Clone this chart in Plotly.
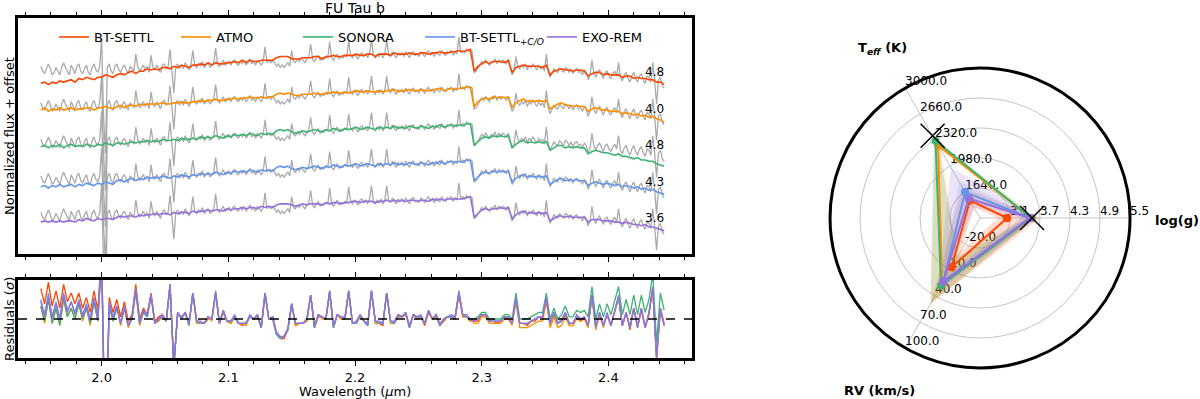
import numpy as np
import plotly.graph_objects as go

# ---- observed K-band spectrum, normalized flux, 1.5 nm sampling ----
wave_obs = np.round(np.arange(1.952, 2.44425, 0.0015), 4)
obs_flux = [
    1.03, 0.99, 0.97, 1.02, 1.05, 1.01, 0.96, 0.98, 1.02, 0.99,
    0.96, 1.02, 1.06, 1.02, 0.99, 0.96, 1.04, 1.01, 0.97, 1.03,
    1.05, 0.99, 0.97, 1.01, 1.04, 0.98, 0.96, 1.02, 1.05, 1.00,
    0.98, 1.03, 1.26, 0.62, 0.31, 1.02, 1.05, 0.99, 0.97, 1.03,
    1.05, 1.00, 0.98, 1.02, 1.04, 1.00, 0.97, 1.03, 1.01, 0.99,
    1.13, 1.03, 0.99, 1.01, 1.04, 1.00, 1.03, 0.98, 1.12, 1.02,
    1.00, 1.04, 1.01, 0.98, 1.04, 1.05, 1.01, 1.03, 1.17, 0.99,
    0.81, 1.03, 1.05, 1.01, 1.04, 1.01, 1.06, 1.03, 1.00, 1.04,
    1.16, 1.04, 1.02, 1.05, 1.03, 1.07, 1.02, 1.04, 1.06, 1.02,
    1.04, 1.06, 1.18, 1.05, 1.03, 1.06, 1.08, 1.04, 1.05, 1.07,
    1.04, 1.07, 1.08, 1.05, 1.04, 1.07, 1.05, 1.08, 1.04, 1.06,
    1.09, 1.05, 1.07, 1.04, 1.08, 1.06, 1.04, 1.07, 1.19, 1.06,
    1.08, 1.06, 1.08, 1.06, 1.03, 1.05, 1.02, 1.04, 1.02, 1.04,
    1.06, 1.03, 1.16, 1.07, 1.06, 1.09, 1.07, 1.10, 1.08, 1.06,
    1.09, 1.11, 1.21, 1.09, 1.07, 1.10, 1.12, 1.08, 1.10, 1.09,
    1.11, 1.10, 1.23, 1.10, 1.08, 1.11, 1.13, 1.09, 1.11, 1.10,
    1.12, 1.11, 1.24, 1.12, 1.10, 1.13, 1.11, 1.09, 1.13, 1.14,
    1.11, 1.13, 1.10, 1.14, 1.25, 1.12, 1.10, 1.13, 1.11, 1.14,
    1.10, 1.13, 1.25, 1.13, 1.11, 1.15, 1.12, 1.10, 1.14, 1.12,
    1.14, 1.11, 1.15, 1.12, 1.10, 1.14, 1.15, 1.12, 1.13, 1.11,
    1.15, 1.13, 1.11, 1.14, 1.16, 1.12, 1.14, 1.11, 1.15, 1.13,
    1.12, 1.16, 1.13, 1.12, 1.15, 1.14, 1.16, 1.12, 1.15, 1.13,
    1.27, 1.14, 1.16, 1.14, 1.17, 1.15, 1.16, 1.15, 0.98, 0.99,
    1.02, 1.05, 1.07, 1.05, 1.08, 1.06, 1.04, 1.07, 1.06, 1.09,
    1.05, 1.08, 1.06, 1.08, 1.07, 1.05, 1.08, 1.02, 0.96, 0.99,
    1.11, 1.03, 1.01, 1.04, 1.02, 1.05, 1.00, 1.04, 1.02, 1.05,
    1.02, 1.00, 1.04, 1.01, 1.03, 0.99, 1.13, 0.99, 0.94, 0.97,
    1.01, 0.99, 0.98, 1.02, 1.00, 0.98, 1.02, 1.01, 0.98, 1.01,
    0.97, 1.00, 1.01, 0.98, 0.99, 0.96, 1.00, 0.98, 0.92, 0.96,
    1.08, 0.98, 0.94, 0.98, 1.00, 0.96, 0.93, 0.98, 0.99, 0.95,
    0.93, 0.97, 0.99, 0.95, 1.06, 0.94, 0.91, 0.96, 0.98, 0.93,
    0.90, 0.95, 0.98, 0.93, 0.90, 0.95, 0.97, 0.92, 0.89, 0.95,
    0.94, 0.90, 1.06, 0.91, 0.72, 0.92, 0.94, 0.87, 0.85,
]
flux_err = 0.03

# ---- model spectra, 3 nm sampling (every second observed pixel) ----
wave = np.round(np.arange(1.952, 2.4445, 0.003), 3)

bt_settl = [
    0.89, 0.90, 0.88, 0.90, 0.89, 0.91, 0.90, 0.91, 0.92, 0.90,
    0.93, 0.92, 0.94, 0.93, 0.92, 0.94, 0.94, 0.96, 0.95, 0.94,
    0.96, 0.97, 0.96, 0.98, 0.99, 0.97, 0.99, 0.99, 1.01, 1.00,
    1.01, 1.00, 1.02, 1.02, 1.01, 1.03, 1.02, 1.04, 1.03, 1.02,
    1.04, 1.04, 1.05, 1.04, 1.06, 1.04, 1.06, 1.05, 1.05, 1.06,
    1.06, 1.07, 1.06, 1.08, 1.06, 1.08, 1.07, 1.07, 1.08, 1.08,
    1.08, 1.08, 1.10, 1.11, 1.11, 1.11, 1.09, 1.09, 1.09, 1.10,
    1.10, 1.10, 1.11, 1.11, 1.09, 1.11, 1.11, 1.12, 1.11, 1.11,
    1.12, 1.12, 1.12, 1.13, 1.12, 1.12, 1.13, 1.13, 1.11, 1.13,
    1.13, 1.13, 1.12, 1.14, 1.13, 1.13, 1.13, 1.14, 1.13, 1.13,
    1.14, 1.14, 1.13, 1.14, 1.14, 1.15, 1.14, 1.14, 1.15, 1.15,
    1.16, 1.15, 1.16, 1.17, 0.99, 1.03, 1.05, 1.07, 1.05, 1.07,
    1.07, 1.07, 1.06, 1.08, 0.98, 1.02, 1.03, 1.04, 1.03, 1.03,
    1.03, 1.03, 1.02, 1.04, 0.96, 0.99, 1.00, 1.01, 1.00, 1.00,
    0.99, 1.00, 1.00, 0.99, 0.95, 0.97, 0.98, 0.98, 0.96, 0.97,
    0.96, 0.96, 0.96, 0.94, 0.95, 0.95, 0.93, 0.94, 0.93, 0.93,
    0.92, 0.92, 0.90, 0.90, 0.88,
]
atmo = [
    0.97, 0.99, 0.96, 0.98, 0.97, 0.99, 0.97, 0.98, 0.99, 0.97,
    0.98, 0.98, 0.99, 0.99, 0.97, 0.99, 0.99, 1.00, 0.99, 0.98,
    1.00, 1.01, 0.99, 1.01, 1.01, 1.00, 1.02, 1.01, 1.02, 1.02,
    1.02, 1.02, 1.03, 1.02, 1.02, 1.03, 1.03, 1.04, 1.03, 1.03,
    1.04, 1.04, 1.05, 1.04, 1.05, 1.05, 1.06, 1.05, 1.05, 1.06,
    1.06, 1.07, 1.06, 1.07, 1.07, 1.08, 1.07, 1.07, 1.08, 1.07,
    1.08, 1.08, 1.10, 1.11, 1.10, 1.11, 1.10, 1.09, 1.09, 1.10,
    1.10, 1.10, 1.11, 1.10, 1.10, 1.11, 1.11, 1.12, 1.11, 1.11,
    1.12, 1.11, 1.12, 1.13, 1.12, 1.12, 1.13, 1.12, 1.12, 1.13,
    1.12, 1.13, 1.13, 1.14, 1.12, 1.13, 1.13, 1.14, 1.13, 1.13,
    1.14, 1.13, 1.13, 1.14, 1.14, 1.15, 1.13, 1.14, 1.15, 1.14,
    1.15, 1.15, 1.16, 1.16, 1.00, 1.04, 1.06, 1.07, 1.06, 1.08,
    1.07, 1.08, 1.07, 1.08, 0.99, 1.03, 1.05, 1.06, 1.04, 1.05,
    1.04, 1.05, 1.04, 1.05, 0.98, 1.00, 1.02, 1.03, 1.01, 1.01,
    1.00, 1.01, 1.00, 1.00, 0.96, 0.98, 0.99, 0.98, 0.97, 0.97,
    0.96, 0.96, 0.96, 0.94, 0.95, 0.94, 0.93, 0.94, 0.92, 0.93,
    0.91, 0.92, 0.90, 0.89, 0.87,
]
sonora = [
    0.97, 0.98, 0.96, 0.98, 0.97, 0.99, 0.96, 0.98, 0.99, 0.97,
    0.98, 0.97, 0.99, 0.98, 0.97, 0.99, 0.98, 1.00, 0.99, 0.98,
    1.00, 1.00, 0.99, 1.00, 1.01, 1.00, 1.01, 1.01, 1.02, 1.01,
    1.02, 1.01, 1.03, 1.02, 1.02, 1.03, 1.02, 1.04, 1.03, 1.03,
    1.04, 1.03, 1.05, 1.04, 1.05, 1.04, 1.06, 1.05, 1.04, 1.06,
    1.05, 1.07, 1.06, 1.07, 1.06, 1.08, 1.07, 1.06, 1.08, 1.07,
    1.08, 1.07, 1.10, 1.11, 1.10, 1.11, 1.09, 1.08, 1.09, 1.10,
    1.09, 1.10, 1.11, 1.10, 1.09, 1.11, 1.10, 1.12, 1.11, 1.10,
    1.12, 1.11, 1.12, 1.13, 1.11, 1.12, 1.13, 1.12, 1.11, 1.13,
    1.12, 1.13, 1.12, 1.14, 1.12, 1.13, 1.12, 1.14, 1.13, 1.12,
    1.14, 1.13, 1.12, 1.14, 1.13, 1.15, 1.13, 1.14, 1.15, 1.14,
    1.15, 1.14, 1.16, 1.16, 0.98, 1.01, 1.04, 1.05, 1.04, 1.06,
    1.05, 1.06, 1.05, 1.06, 0.96, 0.99, 1.01, 1.02, 1.00, 1.01,
    1.00, 1.01, 1.00, 1.01, 0.94, 0.96, 0.98, 0.98, 0.96, 0.97,
    0.96, 0.97, 0.96, 0.96, 0.91, 0.93, 0.94, 0.93, 0.92, 0.92,
    0.91, 0.90, 0.91, 0.89, 0.89, 0.88, 0.87, 0.88, 0.86, 0.86,
    0.85, 0.85, 0.83, 0.82, 0.81,
]
bt_settl_co = [
    0.94, 0.95, 0.93, 0.95, 0.94, 0.96, 0.94, 0.95, 0.96, 0.94,
    0.96, 0.95, 0.97, 0.96, 0.95, 0.97, 0.96, 0.98, 0.97, 0.96,
    0.99, 1.00, 0.98, 1.00, 1.01, 0.99, 1.01, 1.00, 1.02, 1.01,
    1.02, 1.01, 1.03, 1.02, 1.01, 1.03, 1.02, 1.04, 1.03, 1.02,
    1.04, 1.03, 1.05, 1.04, 1.05, 1.04, 1.06, 1.05, 1.04, 1.06,
    1.05, 1.07, 1.06, 1.07, 1.06, 1.08, 1.07, 1.06, 1.08, 1.07,
    1.08, 1.07, 1.10, 1.11, 1.10, 1.11, 1.09, 1.08, 1.09, 1.10,
    1.09, 1.10, 1.11, 1.10, 1.09, 1.11, 1.10, 1.12, 1.11, 1.10,
    1.12, 1.11, 1.12, 1.13, 1.11, 1.12, 1.13, 1.12, 1.11, 1.13,
    1.12, 1.13, 1.12, 1.14, 1.12, 1.13, 1.12, 1.14, 1.13, 1.12,
    1.14, 1.13, 1.12, 1.14, 1.13, 1.15, 1.13, 1.14, 1.15, 1.14,
    1.15, 1.14, 1.16, 1.16, 0.99, 1.02, 1.05, 1.06, 1.05, 1.07,
    1.06, 1.07, 1.06, 1.07, 0.98, 1.01, 1.03, 1.04, 1.02, 1.03,
    1.02, 1.03, 1.02, 1.03, 0.96, 0.98, 1.00, 1.01, 0.99, 1.00,
    0.99, 1.00, 0.99, 0.99, 0.95, 0.97, 0.98, 0.97, 0.96, 0.97,
    0.96, 0.95, 0.96, 0.94, 0.95, 0.94, 0.93, 0.94, 0.92, 0.93,
    0.91, 0.92, 0.90, 0.89, 0.88,
]
exo_rem = [
    0.95, 0.96, 0.95, 0.96, 0.95, 0.96, 0.95, 0.96, 0.96, 0.95,
    0.97, 0.96, 0.98, 0.97, 0.96, 0.98, 0.97, 0.98, 0.98, 0.97,
    0.99, 1.00, 0.99, 1.00, 1.00, 0.99, 1.01, 1.00, 1.01, 1.01,
    1.02, 1.01, 1.02, 1.02, 1.01, 1.03, 1.02, 1.03, 1.03, 1.02,
    1.04, 1.03, 1.04, 1.04, 1.05, 1.04, 1.05, 1.05, 1.04, 1.06,
    1.05, 1.06, 1.06, 1.07, 1.06, 1.07, 1.07, 1.06, 1.08, 1.07,
    1.08, 1.07, 1.09, 1.10, 1.10, 1.10, 1.09, 1.08, 1.09, 1.10,
    1.09, 1.10, 1.10, 1.10, 1.09, 1.11, 1.10, 1.11, 1.11, 1.10,
    1.11, 1.11, 1.12, 1.12, 1.11, 1.12, 1.12, 1.12, 1.11, 1.12,
    1.12, 1.13, 1.12, 1.13, 1.12, 1.13, 1.12, 1.13, 1.13, 1.12,
    1.13, 1.13, 1.12, 1.14, 1.13, 1.14, 1.13, 1.14, 1.14, 1.14,
    1.14, 1.14, 1.15, 1.16, 0.99, 1.02, 1.05, 1.06, 1.05, 1.06,
    1.06, 1.07, 1.06, 1.07, 0.98, 1.01, 1.03, 1.04, 1.02, 1.03,
    1.02, 1.03, 1.02, 1.03, 0.96, 0.98, 1.00, 1.00, 0.99, 1.00,
    0.99, 0.99, 0.99, 0.99, 0.95, 0.97, 0.97, 0.97, 0.96, 0.96,
    0.96, 0.95, 0.95, 0.94, 0.95, 0.94, 0.93, 0.93, 0.92, 0.93,
    0.91, 0.91, 0.90, 0.89, 0.88,
]

model_names = ["BT-SETTL", "ATMO", "SONORA", "BT-SETTL<sub><i>+C/O</i></sub>", "EXO-REM"]
model_flux = [bt_settl, atmo, sonora, bt_settl_co, exo_rem]
colors = ["#ff4500", "#ff8c00", "#3cb371", "#6495ed", "#9370db"]
fills = ["rgba(255,69,0,0.18)", "rgba(255,140,0,0.18)", "rgba(60,179,113,0.18)",
         "rgba(100,149,237,0.18)", "rgba(147,112,219,0.18)"]
offsets = [1.2, 0.9, 0.6, 0.3, 0.0]
logg_labels = ["4.8", "4.0", "4.8", "4.3", "3.6"]

# ---- radar: best-fit parameters per model ----
teff = [1530, 2250, 2310, 1640, 1555]
teff_lo = [1436, 2184, 2252, 1538, 1436]
teff_hi = [1708, 2320, 2354, 1776, 1963]
logg = [3.04, 3.53, 3.52, 3.50, 3.50]
logg_lo = [2.86, 3.46, 3.46, 3.34, 3.34]
logg_hi = [3.70, 3.61, 3.61, 3.64, 3.64]
rv = [7, 26, 28, 23, 24]
rv_lo = [-11, -5, -5, 16, 16]
rv_hi = [49, 49, 49, 31, 34]
teff_lit, logg_lit = 2375, 3.54

teff_ticks = [1640, 1980, 2320, 2660, 3000]
logg_ticks = [3.1, 3.7, 4.3, 4.9, 5.5]
rv_ticks = [-20, 10, 40, 70, 100]


def to_r(val, ticks):
    # radial position: ring k holds ticks[k-1]
    step = ticks[1] - ticks[0]
    return (np.asarray(val, dtype=float) - (ticks[0] - step)) / step


def px(x, y):
    # pixel position in the 1200x399 canvas -> paper coords
    return x / 1200, 1 - y / 399


fig = go.Figure()

# observed spectrum behind each model
for off in offsets:
    fig.add_trace(go.Scatter(x=wave_obs, y=np.array(obs_flux) + off, mode="lines",
                             line=dict(color="#aaaaaa", width=1.3),
                             showlegend=False, hoverinfo="skip"))
for name, flux, col, off in zip(model_names, model_flux, colors, offsets):
    fig.add_trace(go.Scatter(x=wave, y=np.array(flux) + off, mode="lines",
                             line=dict(color=col, width=1.6), name=name))

# residuals on the model grid
obs_on_grid = np.array(obs_flux)[::2]
for flux, col in zip(model_flux, colors):
    res = (obs_on_grid - np.array(flux)) / flux_err
    fig.add_trace(go.Scatter(x=wave, y=res, mode="lines", xaxis="x2", yaxis="y2",
                             line=dict(color=col, width=1.3), showlegend=False))

# radar ring labels
for ticks, ang in [(teff_ticks, 120), (logg_ticks, 0), (rv_ticks, 240)]:
    fig.add_trace(go.Scatterpolar(
        r=to_r(ticks, ticks), theta=[ang] * 5, mode="text",
        text=[f"{t:.1f}" for t in ticks], textposition="top right",
        textfont=dict(size=12, color="black"), showlegend=False))

# uncertainty bands
for i in range(5):
    r_hi = [to_r(logg_hi[i], logg_ticks), to_r(teff_hi[i], teff_ticks), to_r(rv_hi[i], rv_ticks)]
    r_lo = [to_r(logg_lo[i], logg_ticks), to_r(teff_lo[i], teff_ticks), to_r(rv_lo[i], rv_ticks)]
    fig.add_trace(go.Scatterpolar(
        r=r_hi + [r_hi[0], r_lo[0], r_lo[2], r_lo[1], r_lo[0]],
        theta=[0, 120, 240, 360, 360, 240, 120, 0],
        fill="toself", fillcolor=fills[i], line=dict(width=0), mode="lines",
        showlegend=False))

for i in range(5):
    r_best = [to_r(logg[i], logg_ticks), to_r(teff[i], teff_ticks), to_r(rv[i], rv_ticks)]
    fig.add_trace(go.Scatterpolar(
        r=r_best + [r_best[0]], theta=[0, 120, 240, 0], mode="lines+markers",
        line=dict(color=colors[i], width=2), marker=dict(size=8, color=colors[i]),
        showlegend=False))

fig.add_trace(go.Scatterpolar(
    r=[to_r(teff_lit, teff_ticks), to_r(logg_lit, logg_ticks)], theta=[120, 0],
    mode="markers", marker=dict(symbol="x-thin", size=24, line=dict(width=1.5, color="black")),
    showlegend=False))

fig.add_shape(type="line", x0=0, x1=1, y0=0, y1=0, xref="x2 domain", yref="y2",
              line=dict(color="black", width=1.3, dash="dash"))

for lab, off in zip(logg_labels, offsets):
    fig.add_annotation(x=2.436, y=off + 0.98, xref="x", yref="y", text=lab,
                       showarrow=False, font=dict(size=12, color="black"))

frame = dict(showline=True, linecolor="black", linewidth=3, showgrid=False, zeroline=False)
xcommon = dict(range=[1.934, 2.466], ticks="outside", ticklen=5, tickwidth=1, tickcolor="black",
               dtick=0.1, tick0=2.0, tickformat=".1f", mirror="allticks",
               minor=dict(ticks="outside", dtick=0.02, tick0=2.0, ticklen=3, tickcolor="black", showgrid=False))

fig.update_layout(
    width=1200, height=399,
    margin=dict(l=0, r=0, t=0, b=0),
    paper_bgcolor="white", plot_bgcolor="white",
    font=dict(family="DejaVu Sans", color="black"),
    xaxis=dict(domain=[0.015, 0.5767], anchor="y", showticklabels=False, **frame, **xcommon),
    yaxis=dict(domain=[0.3634, 0.9549], anchor="x", range=[0.688, 2.627], showticklabels=False,
               ticks="", mirror=True, **frame),
    xaxis2=dict(domain=[0.015, 0.5767], anchor="y2", showticklabels=True,
                tickfont=dict(size=13), **frame, **xcommon),
    yaxis2=dict(domain=[0.1028, 0.2982], anchor="x2", range=[-6, 6], showticklabels=False,
                ticks="", mirror=True, **frame),
    polar=dict(
        domain=dict(x=[0.6917, 0.9417], y=[0.0777, 0.8296]),
        bgcolor="white",
        radialaxis=dict(range=[0, 5], tickvals=[1, 2, 3, 4, 5], showticklabels=False, ticks="",
                        showline=False, gridcolor="#c4c4c4", gridwidth=1),
        angularaxis=dict(tickvals=[0, 120, 240], showticklabels=False, ticks="",
                         showline=True, linecolor="black", linewidth=3, gridcolor="#c4c4c4", gridwidth=1),
    ),
    legend=dict(orientation="h", x=0.045, y=1 - 37 / 399, xanchor="left", yanchor="middle",
                font=dict(size=13, color="black"), bgcolor="rgba(0,0,0,0)",
                entrywidth=77, entrywidthmode="pixels"),
)

# titles and axis names
texts = [
    ("FU Tau b", 355, 8, 14, 0),
    ("Wavelength (<i>µ</i>m)", 355, 391, 13, 0),
    ("Normalized flux + offset", 9, 136, 13, -90),
    ("Residuals (<i>σ</i>)", 9, 319, 13, -90),
    ("<b>T<sub><i>eff</i></sub> (K)</b>", 882, 48, 13, 0),
    ("<b>log(g)</b>", 1177, 220, 13, 0),
    ("<b>RV (km/s)</b>", 880, 390, 13, 0),
]
for txt, tx, ty, size, ang in texts:
    ax, ay = px(tx, ty)
    fig.add_annotation(x=ax, y=ay, xref="paper", yref="paper", text=txt, textangle=ang,
                       xanchor="center", yanchor="middle", showarrow=False, font=dict(size=size))

fig.write_html("out.html", config={"displayModeBar": False},
               post_script="document.body.style.margin='0px';")
